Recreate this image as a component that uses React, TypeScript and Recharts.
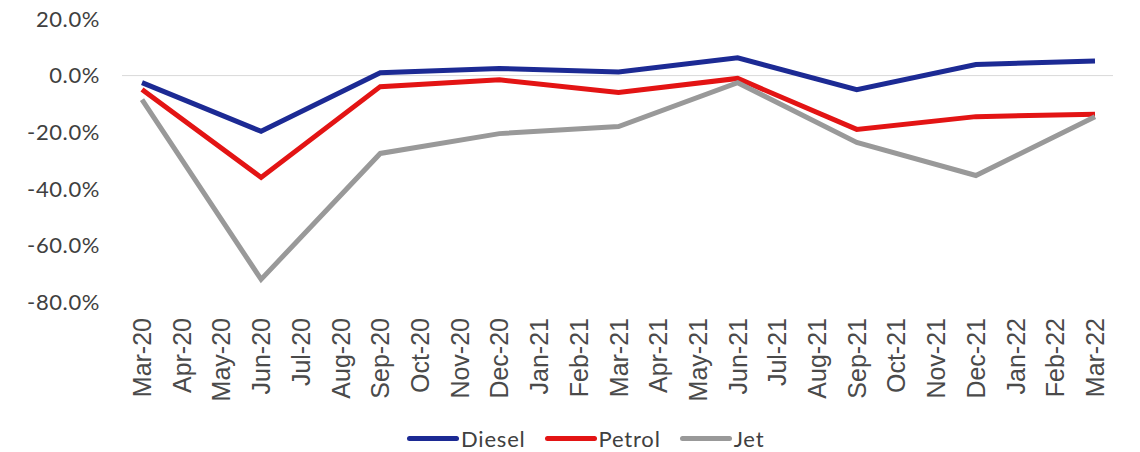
import { LineChart, Line, XAxis, YAxis, ReferenceLine } from 'recharts';

const months = [
  'Mar-20', 'Apr-20', 'May-20', 'Jun-20', 'Jul-20', 'Aug-20', 'Sep-20', 'Oct-20', 'Nov-20', 'Dec-20',
  'Jan-21', 'Feb-21', 'Mar-21', 'Apr-21', 'May-21', 'Jun-21', 'Jul-21', 'Aug-21', 'Sep-21', 'Oct-21',
  'Nov-21', 'Dec-21', 'Jan-22', 'Feb-22', 'Mar-22',
];

// quarterly readings only, in-between months left empty
const diesel = [-2.5, null, null, -19.7, null, null, 1.0, null, null, 2.5, null, null, 1.3, null, null, 6.3, null, null, -5.0, null, null, 3.9, null, null, 5.2];
const petrol = [-4.9, null, null, -36.0, null, null, -3.9, null, null, -1.5, null, null, -6.0, null, null, -1.0, null, null, -19.0, null, null, -14.5, null, null, -13.7];
const jet = [-8.5, null, null, -72.0, null, null, -27.5, null, null, -20.5, null, null, -18.0, null, null, -2.5, null, null, -23.6, null, null, -35.3, null, null, -14.5];

const yTicks = [20, 0, -20, -40, -60, -80];

const series = [
  { key: 'Diesel', color: '#1c2a94' },
  { key: 'Petrol', color: '#e31414' },
  { key: 'Jet', color: '#999999' },
];

const data = months.map((m, i) => ({ month: m, Diesel: diesel[i], Petrol: petrol[i], Jet: jet[i] }));

const XTick = ({ x, y, payload }: any) => (
  <g transform={`translate(${x},${y})`}>
    <text transform="rotate(-90)" textAnchor="end" dy="0.36em" fill="#4a4a4a"
      style={{ fontFamily: '"Liberation Sans", Arial', fontSize: 25 }}>
      {payload.value}
    </text>
  </g>
);

export default function App() {
  return (
    <div style={{ position: 'absolute', left: 0, top: 0, width: 1140, height: 452, background: '#fff' }}>
      <LineChart width={1140} height={452} data={data} margin={{ top: 19, right: 27, bottom: 45, left: 0 }}>
        <XAxis dataKey="month" interval={0} height={105} axisLine={false} tickLine={false}
          tickSize={0} tickMargin={16} tick={<XTick />} padding={{ left: 20, right: 18 }} />
        <YAxis domain={[-80, 20]} ticks={yTicks} width={122} axisLine={false} tickLine={false}
          tickSize={0} tickMargin={22} tickFormatter={(v: number) => `${v.toFixed(1)}%`}
          tick={{ fill: '#404040', fontSize: 22, fontFamily: 'Lato', letterSpacing: 0.6 }} />
        <ReferenceLine y={0} stroke="#d9d9d9" strokeWidth={1} />
        {series.map((s) => (
          <Line key={s.key} type="linear" dataKey={s.key} stroke={s.color} strokeWidth={5}
            dot={false} connectNulls isAnimationActive={false} />
        ))}
      </LineChart>
      <div style={{ position: 'absolute', top: 425, left: 407, display: 'flex',
        alignItems: 'center', gap: 19, fontFamily: 'Lato', fontSize: 22, letterSpacing: 0.8, color: '#404040' }}>
        {series.map((s) => (
          <div key={s.key} style={{ display: 'flex', alignItems: 'center' }}>
            <div style={{ width: 52, height: 5, background: s.color, borderRadius: 3, marginRight: 2 }} />
            <span>{s.key}</span>
          </div>
        ))}
      </div>
    </div>
  );
}
